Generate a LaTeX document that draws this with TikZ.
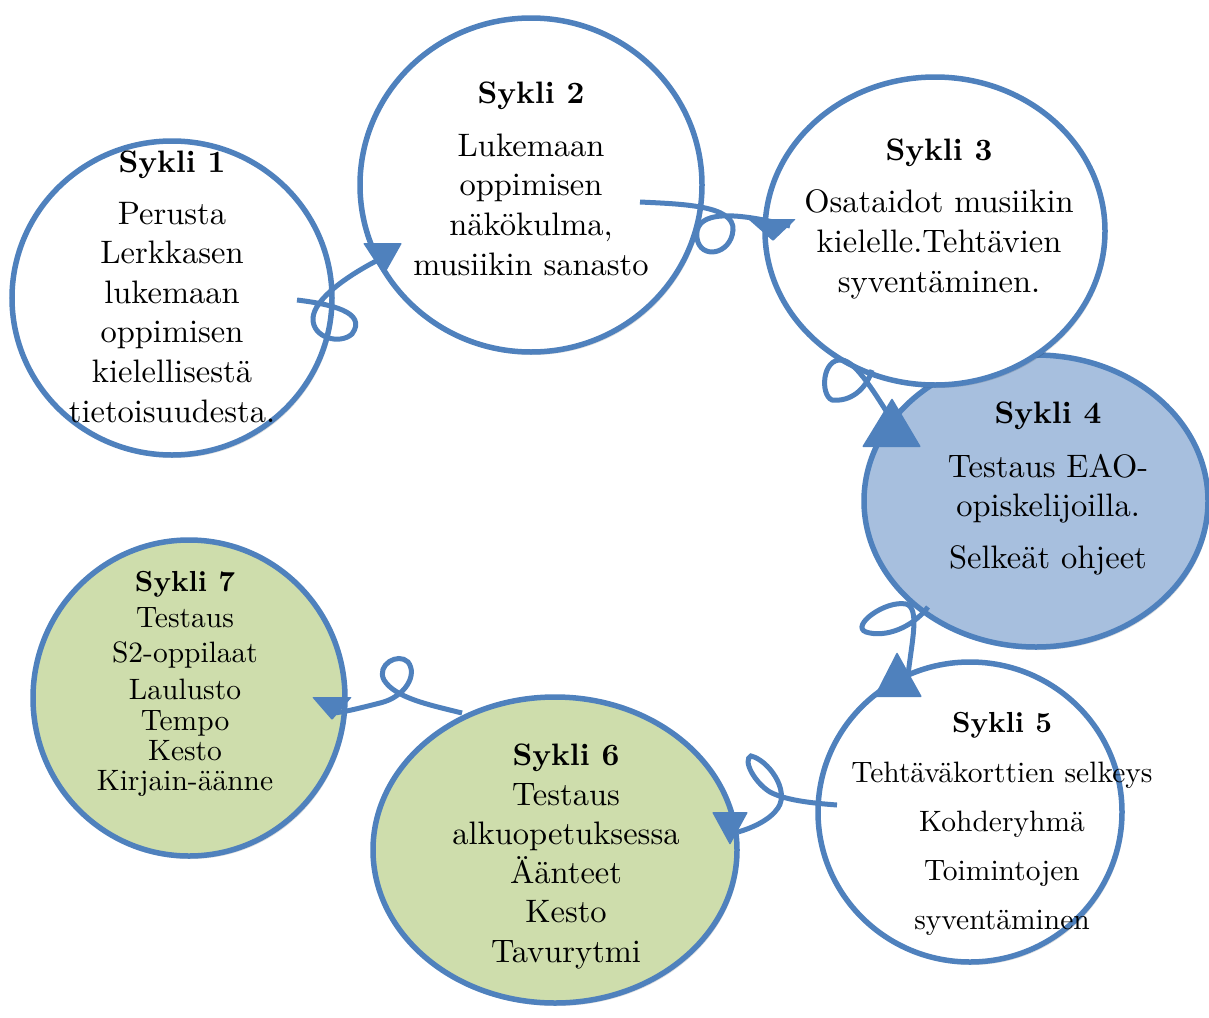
\documentclass[tikz,border=0pt]{standalone}
\usepackage{fontspec}
\setmainfont{lmroman10}[Extension=.otf, UprightFont=*-regular, BoldFont=*-bold, ItalicFont=*-italic, BoldItalicFont=*-bolditalic]
\usetikzlibrary{shapes.geometric,shadows}
\definecolor{cbl}{RGB}{79,129,189}
\definecolor{cfillb}{RGB}{167,191,222}
\definecolor{cgreen}{RGB}{206,221,172}
\tikzset{
 cyc/.style={ellipse, draw=cbl, line width=5.5pt, fill=white, inner sep=0pt,
   general shadow={fill=black, opacity=0.13, shadow xshift=2pt, shadow yshift=-3pt}},
 conn/.style={draw=cbl, line width=5pt, line cap=butt},
 tiptri/.style={fill=cbl, rounded corners=1pt},
 ttl/.style={font=\fontsize{31}{36}\selectfont\bfseries, anchor=base, inner sep=0pt},
 bod/.style={font=\fontsize{32.5}{40}\selectfont, anchor=base, inner sep=0pt},
 ttls/.style={font=\fontsize{29}{34}\selectfont\bfseries, anchor=base, inner sep=0pt},
 bods/.style={font=\fontsize{29.5}{36}\selectfont, anchor=base, inner sep=0pt},
}
\begin{document}
\begin{tikzpicture}[x=1pt,y=-1pt]
\useasboundingbox (0,0) rectangle (1209,1017);
% circles
\node[cyc, fill=cfillb, minimum width=344, minimum height=292] (c4) at (1036,501) {};
\node[cyc, minimum width=320, minimum height=314] (c1) at (172,298) {};
\node[cyc, minimum width=342, minimum height=334] (c2) at (531,185) {};
\node[cyc, minimum width=340, minimum height=308] (c3) at (935,231) {};
\node[cyc, minimum width=304, minimum height=300] (c5) at (970,812) {};
\node[cyc, fill=cgreen, minimum width=364, minimum height=306] (c6) at (555,850) {};
\node[cyc, fill=cgreen, minimum width=312, minimum height=316] (c7) at (189,698) {};
% texts
\node[ttl] (t1) at (172,172) {Sykli 1};
\foreach \t [count=\i] in {Perusta, Lerkkasen, lukemaan, oppimisen, kielellisestä, tietoisuudesta.}
  \node[bod] (t1-\i) at (172,{224+39.6*(\i-1)}) {\t};
\node[ttl] (t2) at (531,103) {Sykli 2};
\foreach \t [count=\i] in {Lukemaan, oppimisen, {näkökulma,}, musiikin sanasto}
  \node[bod] (t2-\i) at (531,{156+39.7*(\i-1)}) {\t};
\node[ttl] (t3) at (939,160) {Sykli 3};
\foreach \t [count=\i] in {Osataidot musiikin, kielelle.Tehtävien, syventäminen.}
  \node[bod] (t3-\i) at (939,{212+40*(\i-1)}) {\t};
\node[ttl] (t4) at (1048,423) {Sykli 4};
\node[bod] (t4-1) at (1048,477) {Testaus EAO-};
\node[bod] (t4-2) at (1048,516) {opiskelijoilla.};
\node[bod] (t4-3) at (1048,568) {Selkeät ohjeet};
\node[ttls] (t5) at (1002,732) {Sykli 5};
\foreach \t [count=\i] in {Tehtäväkorttien selkeys, Kohderyhmä, Toimintojen, syventäminen}
  \node[bods] (t5-\i) at (1002,{782+49*(\i-1)}) {\t};
\node[ttl] (t6) at (566,765) {Sykli 6};
\foreach \t [count=\i] in {Testaus, alkuopetuksessa, Äänteet, Kesto, Tavurytmi}
  \node[bod] (t6-\i) at (566,{805+39.3*(\i-1)}) {\t};
\node[ttls] (t7) at (185,591) {Sykli 7};
\node[bods] (t7-1) at (185,627) {Testaus};
\node[bods] (t7-2) at (185,662) {S2-oppilaat};
\node[bods] (t7-3) at (185,699) {Laulusto};
\node[bods] (t7-4) at (185,730) {Tempo};
\node[bods] (t7-5) at (185,760) {Kesto};
\node[bods] (t7-6) at (185,790) {Kirjain-äänne};
% connector end points
\coordinate (s1) at (297,300); \coordinate (e1) at (386,256);
\coordinate (s2) at (640,202); \coordinate (e2) at (790,226);
\coordinate (s3) at (872,370); \coordinate (e3) at (893,422);
\coordinate (s4) at (928,607); \coordinate (e4) at (908,675);
\coordinate (s5) at (837,805); \coordinate (e5) at (738,832);
\coordinate (s6) at (462,713); \coordinate (e6) at (333,713);
% connectors with loops
\draw[conn] (s1) .. controls (330,304) and (368,312) .. (352,334)
  .. controls (340,345) and (312,338) .. (313,318)
  .. controls (314,300) and (345,276) .. (e1);
\draw[conn] (s2) .. controls (680,204) and (735,205) .. (733,230)
  .. controls (731,255) and (700,260) .. (697,238)
  .. controls (694,215) and (720,208) .. (e2);
\draw[conn] (s3) .. controls (866,390) and (850,402) .. (832,400)
  .. controls (820,395) and (822,358) .. (842,360)
  .. controls (855,362) and (870,385) .. (e3);
\draw[conn] (s4) .. controls (912,628) and (885,638) .. (866,632)
  .. controls (850,626) and (885,600) .. (906,604)
  .. controls (920,608) and (912,640) .. (e4);
\draw[conn] (s5) .. controls (810,803) and (785,800) .. (770,792)
  .. controls (755,783) and (742,760) .. (751,756)
  .. controls (768,760) and (790,790) .. (778,808)
  .. controls (770,820) and (752,828) .. (e5);
\draw[conn] (s6) .. controls (430,705) and (395,698) .. (384,680)
  .. controls (376,665) and (398,652) .. (408,662)
  .. controls (418,675) and (405,697) .. (380,703)
  .. controls (360,708) and (345,712) .. (e6);
% arrowheads
\fill[tiptri] (363,243) -- (402,243) -- (384,275) -- cycle;
\fill[tiptri] (748,219) -- (796,219) -- (773,241) -- cycle;
\fill[tiptri] (892,398) -- (921,447) -- (862,447) -- cycle;
\fill[tiptri] (897,652) -- (922,697) -- (874,697) -- cycle;
\fill[tiptri] (712,812) -- (748,812) -- (730,845) -- cycle;
\fill[tiptri] (312,697) -- (352,697) -- (332,720) -- cycle;
\end{tikzpicture}
\end{document}
